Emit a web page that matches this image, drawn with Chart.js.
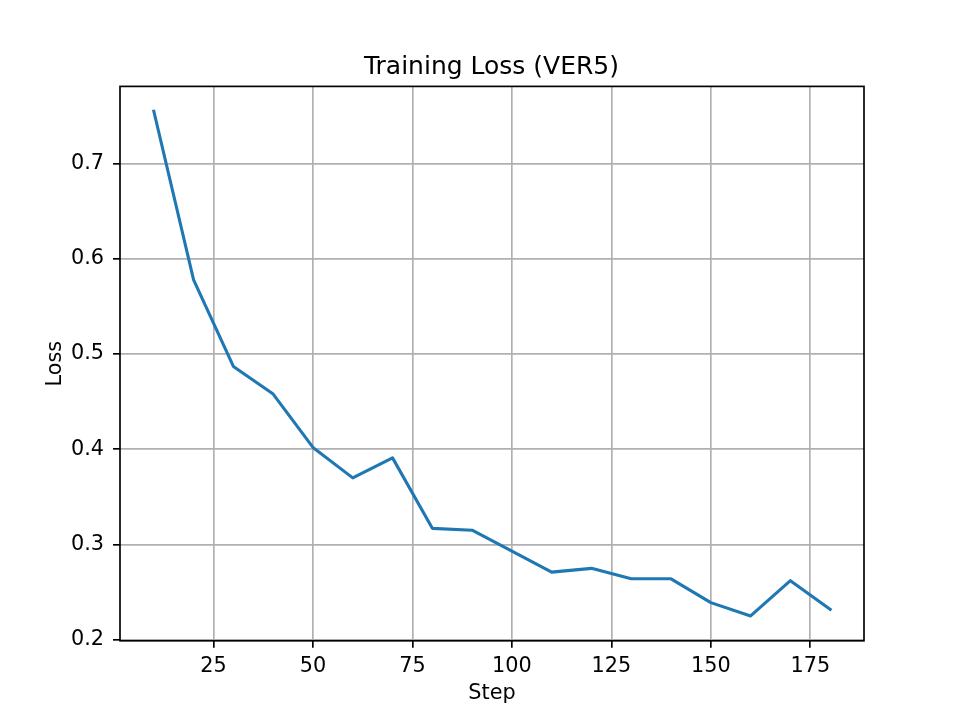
<!DOCTYPE html>
<html>
<head>
<meta charset="utf-8">
<script src="https://cdn.jsdelivr.net/npm/chart.js@4"></script>
<style>
  html, body { margin: 0; padding: 0; background: #fff; }
  canvas { display: block; }
</style>
</head>
<body>
<canvas id="lossChart" width="960" height="720"></canvas>
<script>
// values
const steps = [10, 20, 30, 40, 50, 60, 70, 80, 90, 100, 110, 120, 130, 140, 150, 160, 170, 180];
const lossValues = [0.755, 0.578, 0.487, 0.458, 0.402, 0.370, 0.391, 0.317, 0.315, 0.293,
                    0.271, 0.275, 0.264, 0.264, 0.239, 0.225, 0.262, 0.232];
const xTicks = [25, 50, 75, 100, 125, 150, 175];
const yTicks = [0.2, 0.3, 0.4, 0.5, 0.6, 0.7];

const font = "'DejaVu Sans', sans-serif";

// full box around the plot area, like matplotlib spines
const spines = {
  id: 'spines',
  afterDatasetsDraw(chart) {
    const a = chart.chartArea;
    const ctx = chart.ctx;
    ctx.save();
    ctx.strokeStyle = '#000';
    ctx.lineWidth = 1.67;
    ctx.strokeRect(a.left, a.top, a.right - a.left, a.bottom - a.top);
    ctx.restore();
  }
};

new Chart(document.getElementById('lossChart'), {
  type: 'line',
  data: {
    datasets: [{
      data: steps.map((s, i) => ({ x: s, y: lossValues[i] })),
      borderColor: '#1f77b4',
      borderWidth: 3.1,
      borderCapStyle: 'square',
      borderJoinStyle: 'round',
      pointRadius: 0,
      tension: 0,
      fill: false
    }]
  },
  options: {
    responsive: false,
    animation: false,
    devicePixelRatio: 1,
    // left padding shifts the title so it centres over the plot area
    layout: { padding: { left: 23, right: 0, top: 0, bottom: 0 } },
    plugins: {
      legend: { display: false },
      tooltip: { enabled: false },
      title: {
        display: true,
        text: 'Training Loss (VER5)',
        color: '#000',
        font: { family: font, size: 25, weight: 'normal', lineHeight: 1.2 },
        padding: { top: 52.5, bottom: 3.9 }
      }
    },
    scales: {
      x: {
        type: 'linear',
        min: 1.5,
        max: 188.5,
        afterBuildTicks: scale => { scale.ticks = xTicks.map(v => ({ value: v })); },
        afterFit: scale => { scale.height = 79.2; },
        grid: { color: '#b0b0b0', lineWidth: 1.67, tickColor: '#000', tickWidth: 1.67, tickLength: 7 },
        border: { display: false },
        ticks: {
          autoSkip: false, maxRotation: 0, color: '#000', padding: 6,
          font: { family: font, size: 20.8 },
          callback: v => String(v)
        },
        title: {
          display: true, text: 'Step', color: '#000',
          font: { family: font, size: 20.8, lineHeight: 1.2 },
          padding: { top: 0, bottom: 13.5 }
        }
      },
      y: {
        min: 0.1989,
        max: 0.7811,
        afterBuildTicks: scale => { scale.ticks = yTicks.map(v => ({ value: v })); },
        afterFit: scale => { scale.width = 97; },
        grid: { color: '#b0b0b0', lineWidth: 1.67, tickColor: '#000', tickWidth: 1.67, tickLength: 7 },
        border: { display: false },
        ticks: {
          autoSkip: false, color: '#000', padding: 9,
          font: { family: font, size: 20.8 },
          callback: v => v.toFixed(1)
        },
        title: {
          display: true, text: 'Loss', color: '#000',
          font: { family: font, size: 20.8, lineHeight: 1.2 },
          padding: { top: 20.5, bottom: 0 }
        }
      },
      // empty right-hand box that reserves the figure margin
      yRight: {
        position: 'right',
        afterFit: scale => { scale.width = 96; },
        grid: { display: false },
        border: { display: false },
        ticks: { display: false }
      }
    }
  },
  plugins: [spines]
});
</script>
</body>
</html>
